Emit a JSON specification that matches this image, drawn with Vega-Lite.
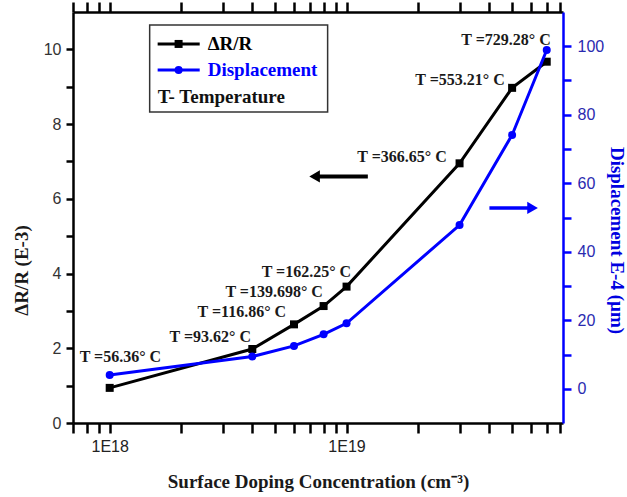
{
  "$schema": "https://vega.github.io/schema/vega-lite/v6.json",
  "width": 490,
  "height": 411,
  "autosize": {"type": "none"},
  "padding": {"left": 73, "top": 12, "right": 64, "bottom": 74},
  "background": "white",
  "config": {
    "view": {"stroke": null},
    "axis": {
      "grid": false,
      "labelFont": "Liberation Sans",
      "labelFontSize": 16,
      "titleFont": "Liberation Serif",
      "titleFontSize": 19,
      "titleFontWeight": "bold",
      "domainWidth": 2.5,
      "tickWidth": 2.5,
      "labelOverlap": false,
      "labelFlush": false
    }
  },
  "datasets": {
    "dr": [
      {"conc": 1e18, "value": 0.94, "series": "ΔR/R"},
      {"conc": 4e18, "value": 1.98, "series": "ΔR/R"},
      {"conc": 6e18, "value": 2.64, "series": "ΔR/R"},
      {"conc": 8e18, "value": 3.13, "series": "ΔR/R"},
      {"conc": 1e19, "value": 3.65, "series": "ΔR/R"},
      {"conc": 3e19, "value": 6.95, "series": "ΔR/R"},
      {"conc": 5e19, "value": 8.97, "series": "ΔR/R"},
      {"conc": 7e19, "value": 9.67, "series": "ΔR/R"}
    ],
    "disp": [
      {"conc": 1e18, "value": 4.0, "series": "Displacement"},
      {"conc": 4e18, "value": 9.4, "series": "Displacement"},
      {"conc": 6e18, "value": 12.5, "series": "Displacement"},
      {"conc": 8e18, "value": 15.9, "series": "Displacement"},
      {"conc": 1e19, "value": 19.1, "series": "Displacement"},
      {"conc": 3e19, "value": 47.8, "series": "Displacement"},
      {"conc": 5e19, "value": 74.1, "series": "Displacement"},
      {"conc": 7e19, "value": 98.9, "series": "Displacement"}
    ],
    "ann": [
      {"ax": 7.47e17, "ay": 1.77, "label": "T =56.36° C"},
      {"ax": 1.79e18, "ay": 2.31, "label": "T =93.62° C"},
      {"ax": 2.35e18, "ay": 2.98, "label": "T =116.86° C"},
      {"ax": 3.08e18, "ay": 3.51, "label": "T =139.698° C"},
      {"ax": 4.38e18, "ay": 4.05, "label": "T =162.25° C"},
      {"ax": 1.11e19, "ay": 7.13, "label": "T =366.65° C"},
      {"ax": 1.95e19, "ay": 9.18, "label": "T =553.21° C"},
      {"ax": 3.05e19, "ay": 10.25, "label": "T =729.28° C"}
    ],
    "legendBox": [{"x1": 1.475e18, "x2": 8.32e18, "y1": 10.653, "y2": 8.324}],
    "legendRows": [
      {"xs": 1.594e18, "xe": 2.399e18, "xm": 1.954e18, "xt": 2.592e18, "y": 10.145, "series": "ΔR/R"},
      {"xs": 1.594e18, "xe": 2.399e18, "xm": 1.954e18, "xt": 2.592e18, "y": 9.449, "series": "Displacement"}
    ],
    "legendNote": [{"xs": 1.594e18, "y": 8.726, "label": "T- Temperature"}],
    "arrowL": [{"xa": 7.33e18, "xb": 1.23e19, "y": 6.6}],
    "arrowR": [{"xa": 4.01e19, "xb": 6.1e19, "y": 52.8}]
  },
  "layer": [
    {
      "layer": [
        {
          "data": {"name": "dr"},
          "mark": {"type": "line", "color": "black", "strokeWidth": 3},
          "encoding": {
            "x": {
              "field": "conc", "type": "quantitative",
              "scale": {"type": "log", "domain": [7e17, 8.2e19], "nice": false},
              "axis": {
                "orient": "bottom",
                "values": [7e17, 8e17, 9e17, 1e18, 2e18, 3e18, 4e18, 5e18, 6e18, 7e18, 8e18, 9e18, 1e19, 2e19, 3e19, 4e19, 5e19, 6e19, 7e19, 8e19],
                "labelExpr": "datum.value == 1e18 ? '1E18' : (datum.value == 1e19 ? '1E19' : '')",
                "tickSize": 10,
                "labelPadding": 5,
                "domainColor": "black",
                "tickColor": "black",
                "labelColor": "#222222",
                "title": "Surface Doping Concentration (cm⁻³)",
                "titleColor": "#1a1a1a",
                "titlePadding": 18,
                "encode": {"ticks": {"y2": {"value": {"expr": "(datum.value == 1e18 || datum.value == 1e19) ? 10 : 6"}}}}
              }
            },
            "y": {
              "field": "value", "type": "quantitative",
              "scale": {"domain": [0, 11], "nice": false},
              "axis": {
                "orient": "left",
                "values": [0, 1, 2, 3, 4, 5, 6, 7, 8, 9, 10],
                "labelExpr": "datum.value % 2 == 0 ? datum.label : ''",
                "tickSize": 7,
                "labelPadding": 5,
                "domainColor": "black",
                "tickColor": "black",
                "labelColor": "#333333",
                "title": "ΔR/R (E-3)",
                "titleColor": "#1a1a1a",
                "titlePadding": 12,
                "titleY": 258,
                "encode": {"ticks": {"x2": {"value": {"expr": "datum.value % 2 == 0 ? -7 : -4"}}}}
              }
            }
          }
        },
        {
          "data": {"name": "dr"},
          "mark": {"type": "point", "shape": "square", "filled": true, "size": 64, "opacity": 1, "color": "black"},
          "encoding": {
            "x": {"field": "conc", "type": "quantitative", "scale": {"type": "log", "domain": [7e17, 8.2e19], "nice": false}, "title": "Surface Doping Concentration (cm⁻³)"},
            "y": {"field": "value", "type": "quantitative", "title": "ΔR/R (E-3)"}
          }
        },
        {
          "data": {"name": "ann"},
          "mark": {"type": "text", "align": "left", "baseline": "middle", "font": "Liberation Serif", "fontSize": 16, "fontWeight": "bold", "color": "#1a1a1a"},
          "encoding": {
            "x": {"field": "ax", "type": "quantitative", "scale": {"type": "log", "domain": [7e17, 8.2e19], "nice": false}, "title": "Surface Doping Concentration (cm⁻³)"},
            "y": {"field": "ay", "type": "quantitative", "title": "ΔR/R (E-3)"},
            "text": {"field": "label"}
          }
        },
        {
          "data": {"name": "legendBox"},
          "mark": {"type": "rect", "fill": "white", "stroke": "#333333", "strokeWidth": 1.5},
          "encoding": {
            "x": {"field": "x1", "type": "quantitative", "scale": {"type": "log", "domain": [7e17, 8.2e19], "nice": false}, "title": "Surface Doping Concentration (cm⁻³)"},
            "x2": {"field": "x2"},
            "y": {"field": "y1", "type": "quantitative", "title": "ΔR/R (E-3)"},
            "y2": {"field": "y2"}
          }
        },
        {
          "data": {"name": "legendRows"},
          "mark": {"type": "rule", "strokeWidth": 3},
          "encoding": {
            "x": {"field": "xs", "type": "quantitative", "scale": {"type": "log", "domain": [7e17, 8.2e19], "nice": false}, "title": "Surface Doping Concentration (cm⁻³)"},
            "x2": {"field": "xe"},
            "y": {"field": "y", "type": "quantitative", "title": "ΔR/R (E-3)"},
            "color": {"field": "series", "type": "nominal", "scale": {"domain": ["ΔR/R", "Displacement"], "range": ["black", "#0000ff"]}, "legend": null}
          }
        },
        {
          "data": {"name": "legendRows"},
          "mark": {"type": "point", "filled": true, "size": 64, "opacity": 1},
          "encoding": {
            "x": {"field": "xm", "type": "quantitative", "scale": {"type": "log", "domain": [7e17, 8.2e19], "nice": false}, "title": "Surface Doping Concentration (cm⁻³)"},
            "y": {"field": "y", "type": "quantitative", "title": "ΔR/R (E-3)"},
            "color": {"field": "series", "type": "nominal", "legend": null},
            "shape": {"field": "series", "type": "nominal", "scale": {"domain": ["ΔR/R", "Displacement"], "range": ["square", "circle"]}, "legend": null}
          }
        },
        {
          "data": {"name": "legendRows"},
          "mark": {"type": "text", "align": "left", "baseline": "middle", "font": "Liberation Serif", "fontSize": 19, "fontWeight": "bold"},
          "encoding": {
            "x": {"field": "xt", "type": "quantitative", "scale": {"type": "log", "domain": [7e17, 8.2e19], "nice": false}, "title": "Surface Doping Concentration (cm⁻³)"},
            "y": {"field": "y", "type": "quantitative", "title": "ΔR/R (E-3)"},
            "text": {"field": "series"},
            "color": {"field": "series", "type": "nominal", "legend": null}
          }
        },
        {
          "data": {"name": "legendNote"},
          "mark": {"type": "text", "align": "left", "baseline": "middle", "font": "Liberation Serif", "fontSize": 19, "fontWeight": "bold", "color": "#111111"},
          "encoding": {
            "x": {"field": "xs", "type": "quantitative", "scale": {"type": "log", "domain": [7e17, 8.2e19], "nice": false}, "title": "Surface Doping Concentration (cm⁻³)"},
            "y": {"field": "y", "type": "quantitative", "title": "ΔR/R (E-3)"},
            "text": {"field": "label"}
          }
        },
        {
          "data": {"name": "arrowL"},
          "mark": {"type": "rule", "color": "black", "strokeWidth": 4},
          "encoding": {
            "x": {"field": "xa", "type": "quantitative", "scale": {"type": "log", "domain": [7e17, 8.2e19], "nice": false}, "title": "Surface Doping Concentration (cm⁻³)"},
            "x2": {"field": "xb"},
            "y": {"field": "y", "type": "quantitative", "title": "ΔR/R (E-3)"}
          }
        },
        {
          "data": {"name": "arrowL"},
          "mark": {"type": "point", "shape": "triangle-left", "filled": true, "size": 150, "color": "black", "opacity": 1},
          "encoding": {
            "x": {"field": "xa", "type": "quantitative", "scale": {"type": "log", "domain": [7e17, 8.2e19], "nice": false}, "title": "Surface Doping Concentration (cm⁻³)"},
            "y": {"field": "y", "type": "quantitative", "title": "ΔR/R (E-3)"}
          }
        }
      ]
    },
    {
      "layer": [
        {
          "data": {"name": "disp"},
          "mark": {"type": "line", "color": "#0000ff", "strokeWidth": 3},
          "encoding": {
            "x": {
              "field": "conc", "type": "quantitative",
              "scale": {"type": "log", "domain": [7e17, 8.2e19], "nice": false},
              "axis": {
                "orient": "top",
                "values": [7e17, 8e17, 9e17, 1e18, 2e18, 3e18, 4e18, 5e18, 6e18, 7e18, 8e18, 9e18, 1e19, 2e19, 3e19, 4e19, 5e19, 6e19, 7e19, 8e19],
                "labels": false,
                "title": null,
                "tickSize": 10,
                "domainColor": "black",
                "tickColor": "black",
                "encode": {"ticks": {"y2": {"value": {"expr": "(datum.value == 1e18 || datum.value == 1e19) ? 9 : 6"}}}}
              }
            },
            "y": {
              "field": "value", "type": "quantitative",
              "scale": {"domain": [-10, 110], "nice": false},
              "axis": {
                "orient": "right",
                "values": [0, 10, 20, 30, 40, 50, 60, 70, 80, 90, 100],
                "labelExpr": "datum.value % 20 == 0 ? datum.label : ''",
                "tickSize": 8,
                "labelPadding": 6,
                "domainColor": "#0000ff",
                "tickColor": "#0000ff",
                "labelColor": "#2a2ab0",
                "title": "Displacement E-4 (µm)",
                "titleColor": "#0000e0",
                "titlePadding": 3,
                "titleY": 228,
                "encode": {"ticks": {"x2": {"value": {"expr": "datum.value % 20 == 0 ? 8 : 4"}}}}
              }
            }
          }
        },
        {
          "data": {"name": "disp"},
          "mark": {"type": "point", "shape": "circle", "filled": true, "size": 64, "opacity": 1, "color": "#0000ff"},
          "encoding": {
            "x": {"field": "conc", "type": "quantitative", "scale": {"type": "log", "domain": [7e17, 8.2e19], "nice": false}, "title": null},
            "y": {"field": "value", "type": "quantitative", "title": "Displacement E-4 (µm)"}
          }
        },
        {
          "data": {"name": "arrowR"},
          "mark": {"type": "rule", "color": "#0000ff", "strokeWidth": 3.5},
          "encoding": {
            "x": {"field": "xa", "type": "quantitative", "scale": {"type": "log", "domain": [7e17, 8.2e19], "nice": false}, "title": null},
            "x2": {"field": "xb"},
            "y": {"field": "y", "type": "quantitative", "title": "Displacement E-4 (µm)"}
          }
        },
        {
          "data": {"name": "arrowR"},
          "mark": {"type": "point", "shape": "triangle-right", "filled": true, "size": 150, "color": "#0000ff", "opacity": 1},
          "encoding": {
            "x": {"field": "xb", "type": "quantitative", "scale": {"type": "log", "domain": [7e17, 8.2e19], "nice": false}, "title": null},
            "y": {"field": "y", "type": "quantitative", "title": "Displacement E-4 (µm)"}
          }
        }
      ]
    }
  ],
  "resolve": {"scale": {"y": "independent"}, "axis": {"x": "independent"}}
}
